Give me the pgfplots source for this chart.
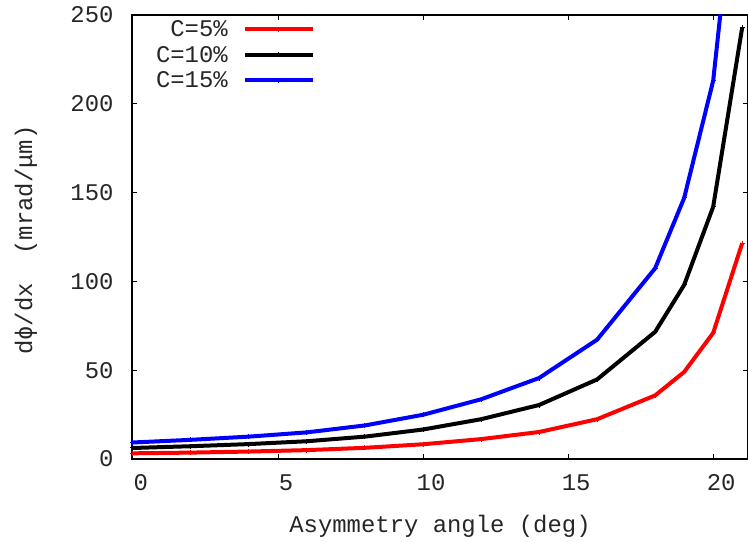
\documentclass[border=0pt]{standalone}
\usepackage{pgfplots}
\pgfplotsset{compat=1.18}
\usepackage{fontspec}
\setmainfont{Liberation Mono}
\begin{document}
\begin{tikzpicture}
\begin{axis}[
 scale only axis, width=616bp, height=444bp,
 xmin=-0.03, xmax=21.2, ymin=0, ymax=250,
 xtick={0,5,10,15,20}, ytick={0,50,100,150,200,250},
 minor tick num=0,
 tick align=inside, major tick length=5bp,
 axis line style={line width=1.2bp},
 every tick/.style={black, line width=0.8bp},
 font=\fontsize{24}{28}\selectfont,
 /pgf/number format/assume math mode=true,
 tick label style={font=\fontsize{24}{28}\selectfont, color=black!85},
 xticklabel style={yshift=-12bp, xshift=8bp},
 yticklabel style={xshift=-15bp},
 xlabel={Asymmetry angle (deg)},
 ylabel={dϕ/dx\ \ (mrad/μm)},
 label style={color=black!85},
 xlabel style={at={(axis description cs:0.5,-0.151)}, anchor=center},
 ylabel style={at={(axis description cs:-0.172,0.493)}, anchor=center},
 legend plot pos=right,
 legend cell align=right,
 legend style={draw=none, fill=none, at={(axis description cs:0.297,0.99)}, anchor=north east,
   font=\fontsize{24}{25}\selectfont, row sep=6bp, column sep=14bp, inner sep=0pt,
   nodes={inner sep=1bp, text=black!85}},
 legend image code/.code={\draw[mark repeat=2,mark phase=2,#1] plot coordinates {(0bp,0bp)(34bp,0bp)(68bp,0bp)};},
 every axis plot/.append style={line width=4bp, mark=+, mark size=2.5bp, mark options={line width=1bp}},
]
\addplot[color=red] coordinates {
 (0,3.2) (2,3.6) (4,4.2) (6,5.0) (8,6.3) (10,8.3) (12,11.2) (14,15.2) (16,22.4) (18,35.8) (19,49) (20,71) (21,121.5)};
\addlegendentry{C=5\%}
\addplot[color=black] coordinates {
 (0,6.2) (2,7.2) (4,8.4) (6,10.0) (8,12.6) (10,16.6) (12,22.4) (14,30.4) (16,44.8) (18,71.6) (19,98) (20,142) (21,243)};
\addlegendentry{C=10\%}
\addplot[color=blue] coordinates {
 (0,9.3) (2,10.8) (4,12.6) (6,15.0) (8,18.9) (10,24.9) (12,33.6) (14,45.6) (16,67.2) (18,107.4) (19,147) (20,213) (21,364.5)};
\addlegendentry{C=15\%}
\end{axis}
\pgfresetboundingbox
\useasboundingbox (current axis.south west) ++(-132bp,-83bp) rectangle ++(748bp,542bp);
\end{tikzpicture}
\end{document}
